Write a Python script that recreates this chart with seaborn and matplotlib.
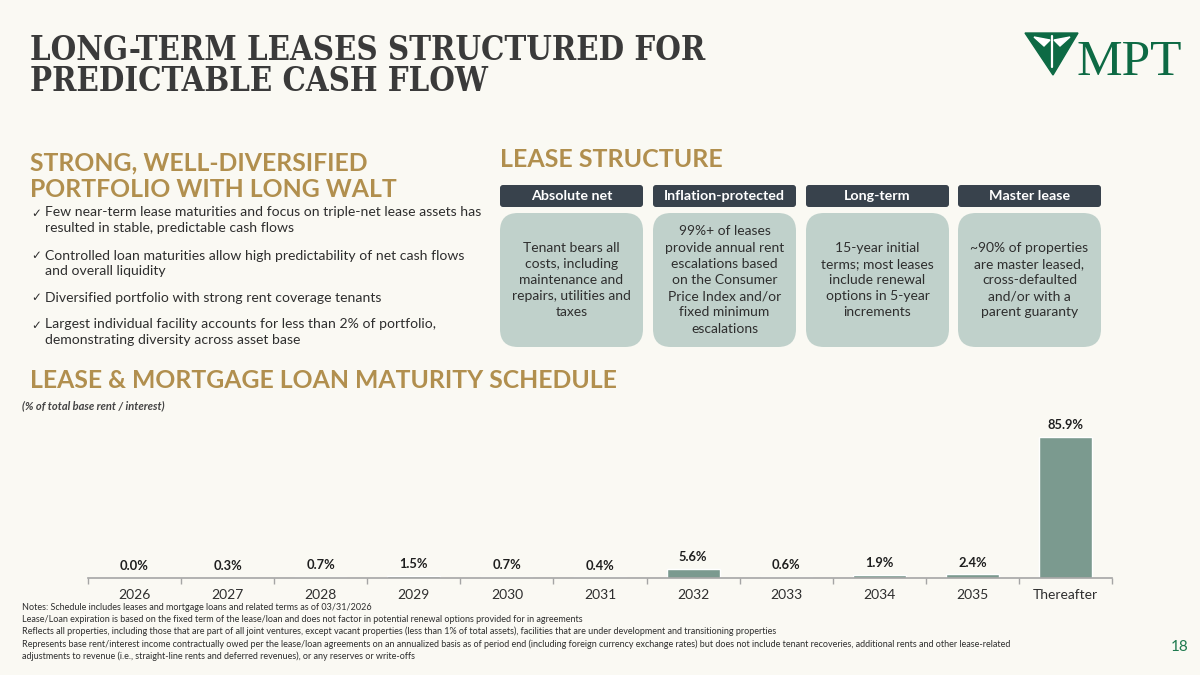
import numpy as np
import pandas as pd
import matplotlib
matplotlib.use('Agg')
import matplotlib.pyplot as plt
import seaborn as sns
from matplotlib.patches import FancyBboxPatch, Polygon

# data
years = ['2026', '2027', '2028', '2029', '2030', '2031', '2032', '2033', '2034', '2035', 'Thereafter']
pct = [0.0, 0.3, 0.7, 1.5, 0.7, 0.4, 5.6, 0.6, 1.9, 2.4, 85.9]

bullets = [
    "Few near-term lease maturities and focus on triple-net lease assets has\nresulted in stable, predictable cash flows",
    "Controlled loan maturities allow high predictability of net cash flows\nand overall liquidity",
    "Diversified portfolio with strong rent coverage tenants",
    "Largest individual facility accounts for less than 2% of portfolio,\ndemonstrating diversity across asset base",
]
lease_heads = ['Absolute net', 'Inflation-protected', 'Long-term', 'Master lease']
lease_texts = [
    "Tenant bears all\ncosts, including\nmaintenance and\nrepairs, utilities and\ntaxes",
    "99%+ of leases\nprovide annual rent\nescalations based\non the Consumer\nPrice Index and/or\nfixed minimum\nescalations",
    "15-year initial\nterms; most leases\ninclude renewal\noptions in 5-year\nincrements",
    "~90% of properties\nare master leased,\ncross-defaulted\nand/or with a\nparent guaranty",
]
notes = [
    "Notes: Schedule includes leases and mortgage loans and related terms as of 03/31/2026",
    "Lease/Loan expiration is based on the fixed term of the lease/loan and does not factor in potential renewal options provided for in agreements",
    "Reflects all properties, including those that are part of all joint ventures, except vacant properties (less than 1% of total assets), facilities that are under development and transitioning properties",
    "Represents base rent/interest income contractually owed per the lease/loan agreements on an annualized basis as of period end (including foreign currency exchange rates) but does not include tenant recoveries, additional rents and other lease-related",
    "adjustments to revenue (i.e., straight-line rents and deferred revenues), or any reserves or write-offs",
]

BG = '#FAF9F3'
GOLD = '#B18F4E'
DARK = '#2E2E2E'
HEAD = '#38424C'
SAGE = '#C0D1CB'
BAR = '#7B9A8F'
GREEN = '#0D6A44'

sns.set_theme(style='white')
plt.rcParams['font.family'] = ['Lato', 'DejaVu Sans']

fig = plt.figure(figsize=(12, 6.75), dpi=100)
fig.patch.set_facecolor(BG)

# overlay axes in pixel coordinates
ov = fig.add_axes([0, 0, 1, 1])
ov.set_xlim(0, 1200)
ov.set_ylim(675, 0)
ov.axis('off')
ov.set_facecolor(BG)

# title
ov.text(30, 60, "LONG-TERM LEASES STRUCTURED FOR", family='DejaVu Serif', fontstretch='condensed',
        fontweight='bold', fontsize=23.5, color='#3A3A3A', va='baseline')
ov.text(30, 91, "PREDICTABLE CASH FLOW", family='DejaVu Serif', fontstretch='condensed',
        fontweight='bold', fontsize=23.5, color='#3A3A3A', va='baseline')

# logo
ov.add_patch(Polygon([[1025, 33], [1078, 33], [1053, 75]], closed=True, color=GREEN))
ov.plot([1052, 1052], [36, 67], color='white', lw=1.6)
ov.add_patch(Polygon([[1034, 37], [1050, 40], [1044, 46]], closed=True, color='white'))
ov.add_patch(Polygon([[1070, 37], [1054, 40], [1060, 46]], closed=True, color='white'))
ov.text(1076, 75, "MPT", family='Liberation Serif', fontsize=37, color=GREEN, va='baseline')

# left section heading
ov.text(30, 170, "STRONG, WELL-DIVERSIFIED", fontsize=17.8, fontweight='bold', color=GOLD, va='baseline')
ov.text(30, 197, "PORTFOLIO WITH LONG WALT", fontsize=17.8, fontweight='bold', color=GOLD, va='baseline')

by = [213, 256, 298, 325]
for y, b in zip(by, bullets):
    ov.text(31, y, "\u2713", fontsize=8.5, color=DARK, va='center', family=['DejaVu Sans'])
    ov.text(45, y - 6.5, b, fontsize=10.1, color=DARK, va='top', linespacing=1.36)

# lease structure
ov.text(500, 167, "LEASE STRUCTURE", fontsize=18, fontweight='bold', color=GOLD, va='baseline')
bx = [500, 653, 806, 958]
bw = 143
for x, h, t in zip(bx, lease_heads, lease_texts):
    ov.add_patch(FancyBboxPatch((x, 185), bw, 22, boxstyle='round,pad=0,rounding_size=3',
                                fc=HEAD, ec='none'))
    ov.text(x + bw / 2, 196.5, h, fontsize=10.3, fontweight='bold', color='white', ha='center', va='center')
    ov.add_patch(FancyBboxPatch((x, 213), bw, 134, boxstyle='round,pad=0,rounding_size=18',
                                fc=SAGE, ec='none'))
    ov.text(x + bw / 2, 280, t, fontsize=10, color=DARK, ha='center', va='center', linespacing=1.42)

# chart section
ov.text(30, 388, "LEASE & MORTGAGE LOAN MATURITY SCHEDULE", fontsize=17.8, fontweight='bold',
        color=GOLD, va='baseline')
ov.text(22, 406, "(% of total base rent / interest)", fontsize=8, fontweight='bold', style='italic',
        color='#444444', va='center')

for i, n in enumerate(notes):
    ov.text(22, 607 + i * 12.3, n, fontsize=6.45, color=DARK, va='center')
ov.text(1180, 647, "18", fontsize=11, color='#1E7A4E', ha='center', va='center')

# bar chart
ax = fig.add_axes([88 / 1200, 1 - 578 / 675, 1024 / 1200, 163 / 675])
ax.patch.set_alpha(0)
df = pd.DataFrame({'year': years, 'pct': pct})
sns.barplot(data=df, x='year', y='pct', color=BAR, width=0.57, saturation=1, ax=ax)
ax.bar_label(ax.containers[0], labels=[f"{v:.1f}%" for v in pct], padding=4,
             fontsize=9.3, fontweight='bold', color='#1E1E1E')
ax.set_xlim(-0.5, len(years) - 0.5)
ax.set_ylim(0, 99.3)
ax.set_xlabel('')
ax.set_ylabel('')
ax.set_yticks([])
for s in ['top', 'right', 'left']:
    ax.spines[s].set_visible(False)
ax.spines['bottom'].set_color('#A5A5A5')
ax.spines['bottom'].set_linewidth(1.2)
ax.set_xticks(np.arange(-0.5, len(years)), minor=True)
ax.tick_params(axis='x', which='major', length=0, labelsize=10, labelcolor=DARK, pad=8)
ax.tick_params(axis='x', which='minor', length=4, color='#A5A5A5', width=1, bottom=True)

fig.savefig('out.png', dpi=100, facecolor=BG)
